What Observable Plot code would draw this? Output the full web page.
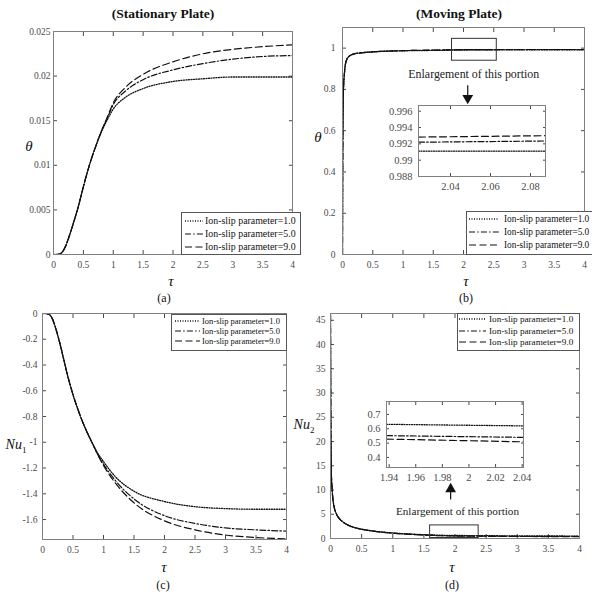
<!DOCTYPE html>
<html><head><meta charset="utf-8">
<script src="https://cdn.jsdelivr.net/npm/d3@7"></script>
<script src="https://cdn.jsdelivr.net/npm/@observablehq/plot@0.6"></script>
<style>
body{margin:0;background:#fff;}
#fig{position:relative;width:592px;height:594px;overflow:hidden;font-family:"Liberation Serif","Times New Roman",serif;background:#fff;}
#fig svg, #fig svg text{font-family:"Liberation Serif","Times New Roman",serif !important;}
.lbl{position:absolute;transform:translate(-50%,-50%);white-space:nowrap;color:#111;line-height:1;font-family:"Liberation Serif","Times New Roman",serif;}
</style></head><body><div id="fig"></div>
<script>
// ---------- data ----------
const seriesLabels = ["Ion-slip parameter=1.0", "Ion-slip parameter=5.0", "Ion-slip parameter=9.0"];
const xTicks = [0, 0.5, 1, 1.5, 2, 2.5, 3, 3.5, 4];

// (a) theta, stationary plate
const tauA = [0,0.05,0.1,0.15,0.2,0.25,0.3,0.35,0.4,0.5,0.6,0.7,0.8,0.9,1.0,1.2,1.5,2.0,2.5,3.0,3.5,4.0];
const thetaA1 = [0,0,0.00005,0.0003,0.0009,0.0018,0.0028,0.0039,0.0050,0.0076,0.0100,0.0120,0.0137,0.0151,0.0163,0.0176,0.0186,0.0194,0.0197,0.0199,0.0199,0.0199];
const thetaA5 = [0,0,0.00005,0.0003,0.0009,0.0018,0.0028,0.0039,0.0050,0.0076,0.0100,0.0120,0.0138,0.0153,0.0168,0.0183,0.0196,0.0207,0.0214,0.0219,0.0222,0.0223];
const thetaA9 = [0,0,0.00005,0.0003,0.0009,0.0018,0.0028,0.0039,0.0050,0.0076,0.0100,0.0120,0.0138,0.0154,0.0170,0.0187,0.0202,0.0216,0.0225,0.0230,0.0233,0.0235];
const yTicksA = [0, 0.005, 0.01, 0.015, 0.02, 0.025];

// (b) theta, moving plate
const tauB = [0,0.002,0.005,0.01,0.02,0.03,0.04,0.05,0.07,0.1,0.15,0.2,0.3,0.5,0.7,1.0,1.5,2.0,2.5,3.0,3.5,4.0];
const thetaB1 = [0,0.30,0.55,0.72,0.83,0.87,0.905,0.925,0.945,0.958,0.968,0.973,0.977,0.982,0.985,0.987,0.989,0.991,0.9915,0.992,0.992,0.992];
const thetaB5 = [0,0.30,0.55,0.72,0.83,0.87,0.905,0.925,0.945,0.958,0.968,0.973,0.977,0.982,0.985,0.988,0.990,0.9922,0.9926,0.9928,0.993,0.993];
const thetaB9 = [0,0.30,0.55,0.72,0.83,0.87,0.905,0.925,0.945,0.958,0.968,0.973,0.977,0.982,0.985,0.988,0.9905,0.9928,0.9932,0.9934,0.9935,0.9935];
const yTicksB = [0, 0.2, 0.4, 0.6, 0.8, 1];
// (b) inset
const tauBi = [2.024, 2.0875];
const thetaBi1 = [0.9911, 0.9911];
const thetaBi5 = [0.9922, 0.99235];
const thetaBi9 = [0.99283, 0.9930];
const yTicksBi = [0.988, 0.99, 0.992, 0.994, 0.996];
const xTicksBi = [2.04, 2.06, 2.08];
const boxB = {tau1: 1.81, tau2: 2.55, v1: 0.939, v2: 1.045};

// (c) Nu1, stationary plate
const tauC = [0,0.05,0.1,0.15,0.2,0.25,0.3,0.35,0.4,0.5,0.6,0.7,0.8,0.9,1.0,1.2,1.5,2.0,2.5,3.0,3.5,4.0];
const nuC1 = [0,0,-0.005,-0.03,-0.09,-0.17,-0.26,-0.36,-0.46,-0.63,-0.77,-0.89,-0.99,-1.08,-1.15,-1.27,-1.38,-1.46,-1.50,-1.515,-1.52,-1.52];
const nuC5 = [0,0,-0.005,-0.03,-0.09,-0.17,-0.26,-0.36,-0.46,-0.63,-0.77,-0.89,-0.99,-1.09,-1.17,-1.30,-1.44,-1.57,-1.63,-1.665,-1.68,-1.69];
const nuC9 = [0,0,-0.005,-0.03,-0.09,-0.17,-0.26,-0.36,-0.46,-0.63,-0.77,-0.89,-0.99,-1.09,-1.18,-1.32,-1.47,-1.61,-1.68,-1.72,-1.74,-1.75];
const yTicksC = [0,-0.2,-0.4,-0.6,-0.8,-1,-1.2,-1.4,-1.6];

// (d) Nu2, moving plate
const tauD = [0,0.003,0.006,0.01,0.015,0.025,0.04,0.06,0.09,0.13,0.2,0.3,0.45,0.65,0.9,1.2,1.5,1.94,2.04,2.5,3.0,3.5,4.0];
const nuD1 = [46,32,22,16,13,10.3,8.0,6.4,5.2,4.3,3.4,2.65,2.05,1.6,1.25,0.98,0.80,0.635,0.625,0.58,0.54,0.52,0.50];
const nuD5 = [46,32,22,16,13,10.3,8.0,6.4,5.2,4.3,3.4,2.65,2.05,1.6,1.23,0.93,0.73,0.553,0.54,0.49,0.455,0.435,0.42];
const nuD9 = [46,32,22,16,13,10.3,8.0,6.4,5.2,4.3,3.4,2.65,2.05,1.6,1.22,0.91,0.71,0.527,0.507,0.46,0.42,0.40,0.385];
const yTicksD = [0,5,10,15,20,25,30,35,40,45];
// (d) inset
const tauDi = [1.938, 2.041];
const nuDi1 = [0.631, 0.620];
const nuDi5 = [0.552, 0.540];
const nuDi9 = [0.528, 0.509];
const yTicksDi = [0.4, 0.5, 0.6, 0.7];
const xTicksDi = [1.94, 1.96, 1.98, 2, 2.02, 2.04];
const boxD = {tau1: 1.6, tau2: 2.38, v1: 0.1, v2: 2.7};

const noteText = "Enlargement of this portion";

// ---------- styles ----------
const lineStyles = [
  {dash: "1,1.5", w: 1.3},
  {dash: "6,2.2,1.5,2.2", w: 1.2},
  {dash: "7,3.5", w: 1.2}
];
const FONT = "Liberation Serif";
const fig = document.getElementById("fig");
const fmt = d => String(+d.toFixed(4));

function seriesMarks(tau, list) {
  return list.map((vals, k) => Plot.line(tau.map((t, i) => ({t, v: vals[i]})), {
    x: "t", y: "v", stroke: "#111", strokeWidth: lineStyles[k].w,
    strokeDasharray: lineStyles[k].dash, curve: "monotone-x", clip: true
  }));
}

function panel(o) {
  const el = Plot.plot({
    width: o.w, height: o.h,
    marginLeft: o.ml, marginRight: o.mr, marginTop: o.mt, marginBottom: o.mb,
    style: {background: "transparent", fontFamily: FONT, fontSize: o.fs || "9.5px", color: "#4a4a4a", overflow: "visible"},
    x: {domain: o.xd}, y: {domain: o.yd},
    marks: [
      ...(o.before || []),
      Plot.axisX({anchor: "bottom", ticks: o.xt, tickSize: o.tick, tickPadding: o.xpad, tickFormat: fmt, label: null}),
      Plot.axisX({anchor: "top", ticks: o.xt, tickSize: o.tick, tickFormat: () => "", label: null}),
      Plot.axisY({anchor: "left", ticks: o.yt, tickSize: o.tick, tickPadding: o.ypad, tickFormat: fmt, label: null}),
      Plot.axisY({anchor: "right", ticks: o.yt, tickSize: o.tick, tickFormat: () => "", label: null}),
      ...seriesMarks(o.tau, o.series),
      Plot.frame({stroke: "#808080"}),
      ...(o.extra || [])
    ]
  });
  el.style.position = "absolute";
  el.style.left = o.left + "px";
  el.style.top = o.top + "px";
  fig.appendChild(el);
}

function legend(x1, y1, x2, y2, rowsY, sx1, sx2, tx, fs) {
  const svg = d3.create("svg").attr("width", x2 - x1 + 1).attr("height", y2 - y1 + 1)
    .style("position", "absolute").style("left", x1 + "px").style("top", y1 + "px").style("overflow", "visible");
  svg.append("rect").attr("x", 0.5).attr("y", 0.5).attr("width", x2 - x1).attr("height", y2 - y1)
    .attr("fill", "white").attr("stroke", "#555");
  seriesLabels.forEach((lab, k) => {
    const yy = rowsY[k] - y1;
    svg.append("line").attr("x1", sx1 - x1).attr("x2", sx2 - x1).attr("y1", yy).attr("y2", yy)
      .attr("stroke", "#111").attr("stroke-width", lineStyles[k].w).attr("stroke-dasharray", lineStyles[k].dash);
    svg.append("text").attr("x", tx - x1).attr("y", yy).attr("dy", "0.35em")
      .attr("font-size", fs).attr("fill", "#111").text(lab);
  });
  fig.appendChild(svg.node());
}

function label(html, x, y, css) {
  const d = document.createElement("div");
  d.className = "lbl";
  d.style.left = x + "px"; d.style.top = y + "px";
  d.style.cssText += css || "";
  d.innerHTML = html;
  fig.appendChild(d);
}

// (a)
panel({left: 0, top: 0, w: 296, h: 300, ml: 53, mr: 4, mt: 31, mb: 46,
  xd: [0, 4], yd: [0, 0.025], xt: xTicks, yt: yTicksA, tick: -4, xpad: 11, ypad: 7,
  tau: tauA, series: [thetaA1, thetaA5, thetaA9]});

// (b)
panel({left: 296, top: 0, w: 296, h: 300, ml: 46, mr: 8, mt: 27, mb: 46,
  xd: [0, 4], yd: [0, 1.1], xt: xTicks, yt: yTicksB, tick: -4, xpad: 11, ypad: 11,
  tau: tauB, series: [thetaB1, thetaB5, thetaB9],
  extra: [
    Plot.rect([boxB], {x1: "tau1", x2: "tau2", y1: "v1", y2: "v2", fill: "none", stroke: "#333", strokeWidth: 1}),
    Plot.text([{t: 2.17, v: 0.876}], {x: "t", y: "v", text: () => noteText, fontSize: 11.9, fill: "#222"}),
    Plot.ruleX([{t: 2.07, a: 0.818, b: 0.765}], {x: "t", y1: "a", y2: "b", stroke: "#111", strokeWidth: 1.2}),
    Plot.dot([{t: 2.07, v: 0.758}], {x: "t", y: "v", symbol: "triangle", r: 4, fill: "#111", stroke: "none", rotate: 180})
  ]});

// (c)
panel({left: 0, top: 300, w: 296, h: 294, ml: 42, mr: 10, mt: 13, mb: 55,
  xd: [0, 4], yd: [-1.755, 0], xt: xTicks, yt: yTicksC, tick: -4, xpad: 11, ypad: 9,
  tau: tauC, series: [nuC1, nuC5, nuC9]});

// (d)
panel({left: 296, top: 300, w: 296, h: 294, ml: 34, mr: 13, mt: 13, mb: 56,
  xd: [0, 4], yd: [0, 46.4], xt: xTicks, yt: yTicksD, tick: -4, xpad: 11, ypad: 9,
  tau: tauD, series: [nuD1, nuD5, nuD9],
  extra: [
    Plot.rect([boxD], {x1: "tau1", x2: "tau2", y1: "v1", y2: "v2", fill: "none", stroke: "#333", strokeWidth: 1}),
    Plot.text([{t: 2.04, v: 5.56}], {x: "t", y: "v", text: () => noteText, fontSize: 11.2, fill: "#222"}),
    Plot.ruleX([{t: 1.93, a: 7.96, b: 10.0}], {x: "t", y1: "a", y2: "b", stroke: "#111", strokeWidth: 1.2}),
    Plot.dot([{t: 1.93, v: 10.2}], {x: "t", y: "v", symbol: "triangle", r: 4, fill: "#111", stroke: "none"})
  ]});

// insets
panel({left: 375, top: 95, w: 180, h: 100, ml: 43, mr: 10, mt: 10, mb: 19,
  xd: [2.024, 2.0875], yd: [0.988, 0.9967], xt: xTicksBi, yt: yTicksBi, tick: -3, xpad: 9, ypad: 9, fs: "10.5px",
  before: [Plot.frame({fill: "white"})],
  tau: tauBi, series: [thetaBi1, thetaBi5, thetaBi9]});

panel({left: 345, top: 392, w: 185, h: 95, ml: 41, mr: 7, mt: 9, mb: 20,
  xd: [1.938, 2.041], yd: [0.33, 0.79], xt: xTicksDi, yt: yTicksDi, tick: -3, xpad: 9, ypad: 9, fs: "10.5px",
  before: [Plot.frame({fill: "white"})],
  tau: tauDi, series: [nuDi1, nuDi5, nuDi9]});

// legends
legend(181, 212, 300, 254, [221, 234, 247], 185, 203, 205, "9.9px");
legend(466, 211, 600, 254, [219, 232, 245], 469, 499, 504, "9.3px");
legend(171, 314, 286, 350, [321, 331, 341], 175, 200, 202, "8.5px");
legend(457, 313, 579, 350, [319, 331, 342], 459, 486, 489, "9.2px");

// titles and labels
label("(Stationary Plate)", 163, 14, "font-weight:bold;font-size:13.5px;");
label("(Moving Plate)", 459, 14, "font-weight:bold;font-size:13.5px;");
label("<i>θ</i>", 29, 146, "font-size:15px;");
label("<i>θ</i>", 318, 137, "font-size:15px;");
label("<i>τ</i>", 171, 281, "font-size:15px;");
label("<i>τ</i>", 466, 281, "font-size:15px;");
label("(a)", 164, 298, "font-size:12px;");
label("(b)", 466, 298, "font-size:12px;");
label("<i>Nu</i><span style='font-size:9px;position:relative;top:4px'>1</span>", 16, 445, "font-size:14px;");
label("<i>Nu</i><span style='font-size:9px;position:relative;top:4px'>2</span>", 304, 425, "font-size:14px;");
label("<i>τ</i>", 164, 567, "font-size:15px;");
label("<i>τ</i>", 452, 567, "font-size:15px;");
label("(c)", 163, 585, "font-size:12px;");
label("(d)", 452, 585, "font-size:12px;");
</script>
</body></html>
